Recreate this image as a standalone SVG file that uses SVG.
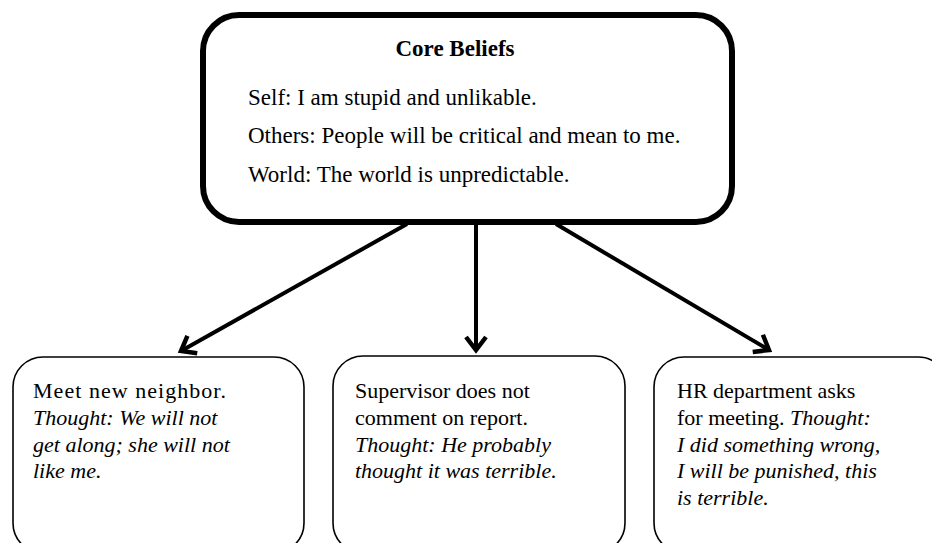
<svg xmlns="http://www.w3.org/2000/svg" width="932" height="543" viewBox="0 0 932 543">
<style>
  .t { font-family: "Liberation Serif", "Times New Roman", serif; fill: #000; }
  .main { font-size: 23px; }
  .sub { font-size: 22px; }
  .b { font-weight: bold; }
  .i { font-style: italic; }
  .box { fill: #fff; stroke: #000; stroke-width: 1.6; }
  .conn { stroke: #000; stroke-width: 4; fill: none; }
</style>
<defs>
  <marker id="arr" markerUnits="userSpaceOnUse" markerWidth="30" markerHeight="30" viewBox="-15 -15 30 30" refX="0" refY="0" orient="auto" overflow="visible">
    <path d="M -13 -10 L 0 0 L -13 10" fill="none" stroke="#000" stroke-width="4.5" stroke-linejoin="miter"/>
  </marker>
</defs>
<rect width="932" height="543" fill="#fff"/>
<g id="connectors">
  <line class="conn" x1="407" y1="224" x2="181" y2="351" marker-end="url(#arr)"/>
  <line class="conn" x1="476" y1="224" x2="476" y2="350" marker-end="url(#arr)"/>
  <line class="conn" x1="556" y1="224" x2="769" y2="350" marker-end="url(#arr)"/>
</g>
<g id="core">
  <rect x="203" y="15" width="529" height="207" rx="36" fill="#fff" stroke="#000" stroke-width="6"/>
  <text class="t main b" x="455" y="56" text-anchor="middle">Core Beliefs</text>
  <text class="t main" x="248" y="105">Self: I am stupid and unlikable.</text>
  <text class="t main" x="248" y="143">Others: People will be critical and mean to me.</text>
  <text class="t main" x="248" y="182">World: The world is unpredictable.</text>
</g>
<g id="neighbor">
  <rect class="box" x="13" y="357" width="291" height="196" rx="30"/>
  <text class="t sub" x="33" y="398" textLength="193" lengthAdjust="spacing">Meet new neighbor.</text>
  <text class="t sub i" x="33" y="425">Thought: We will not</text>
  <text class="t sub i" x="33" y="452">get along; she will not</text>
  <text class="t sub i" x="33" y="478">like me.</text>
</g>
<g id="supervisor">
  <rect class="box" x="333" y="356" width="292" height="197" rx="30"/>
  <text class="t sub" x="355" y="398">Supervisor does not</text>
  <text class="t sub" x="355" y="425">comment on report.</text>
  <text class="t sub i" x="355" y="452">Thought: He probably</text>
  <text class="t sub i" x="355" y="478">thought it was terrible.</text>
</g>
<g id="hr">
  <rect class="box" x="654" y="357" width="294" height="196" rx="30"/>
  <text class="t sub" x="677" y="398">HR department asks</text>
  <text class="t sub" x="677" y="425">for meeting. <tspan class="i">Thought:</tspan></text>
  <text class="t sub i" x="677" y="452">I did something wrong,</text>
  <text class="t sub i" x="677" y="478">I will be punished, this</text>
  <text class="t sub i" x="677" y="505">is terrible.</text>
</g>
</svg>
